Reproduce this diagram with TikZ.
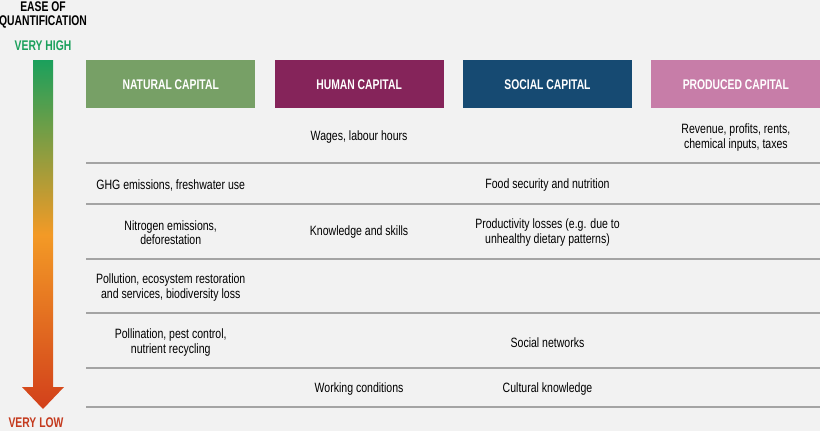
\documentclass[tikz,border=0pt]{standalone}
\usepackage{fontspec}
\setmainfont{Liberation Sans}[FakeStretch=0.78,BoldFeatures={FakeStretch=0.74}]
\usetikzlibrary{positioning}
\definecolor{pagegray}{HTML}{F2F2F2}
\definecolor{rulegray}{HTML}{A4A4A4}
\definecolor{natgreen}{HTML}{77A066}
\definecolor{humanplum}{HTML}{85245A}
\definecolor{socialblue}{HTML}{164A72}
\definecolor{prodpink}{HTML}{C77DA8}
\definecolor{highgreen}{HTML}{1BA05C}
\definecolor{midorange}{HTML}{F39A26}
\definecolor{lowred}{HTML}{D2401B}
\definecolor{lowtext}{HTML}{C43A1E}

\begin{document}
\begin{tikzpicture}[
x=1pt,y=-1pt,
header/.style={rectangle,minimum width=169pt,minimum height=48pt,inner sep=0pt,
text=white,font=\fontsize{14}{15}\selectfont\bfseries},
cell/.style={align=center,inner sep=0pt,font=\fontsize{13.5}{14.5}\selectfont},
axis label/.style={align=center,inner sep=0pt,font=\fontsize{14}{13.5}\selectfont\bfseries},
rule/.style={draw=rulegray,line width=1.3pt},
node distance=19pt
]

% page
\fill[pagegray] (0,0) rectangle (820,431);
\useasboundingbox (0,0) rectangle (820,431);

% scale on the left
\node[axis label] (ease) at (43,15) {EASE OF\\QUANTIFICATION};
\node[axis label,text=highgreen] (veryhigh) at (43,46) {VERY HIGH};
\node[axis label,text=lowtext] (verylow) at (36,422.5) {VERY LOW};
\shade[top color=highgreen,bottom color=lowred,middle color=midorange]
(33,60) -- (53,60) -- (53,387) -- (64,387) -- (43,409) -- (22,387) -- (33,387) -- cycle;

% column heads
\node[header,fill=natgreen,anchor=north west] (natural) at (86,60) {NATURAL CAPITAL};
\node[header,fill=humanplum,right=of natural] (human) {HUMAN CAPITAL};
\node[header,fill=socialblue,right=of human] (social) {SOCIAL CAPITAL};
\node[header,fill=prodpink,right=of social] (produced) {PRODUCED CAPITAL};

% rows
\foreach \y in {163,204,259,313,368,407}
\draw[rule] (86,\y) -- (820,\y);
\coordinate (row1) at (0,137.5);
\coordinate (row2) at (0,185.5);
\coordinate (row3) at (0,232.5);
\coordinate (row4) at (0,287.5);
\coordinate (row5) at (0,342.5);
\coordinate (row6) at (0,389.5);

\node[cell] (wages)     at (human |- row1)    {Wages, labour hours};
\node[cell] (revenue)   at (produced |- row1) {Revenue, profits, rents,\\chemical inputs, taxes};
\node[cell] (ghg)       at (natural |- row2)  {GHG emissions, freshwater use};
\node[cell] (food)      at (social |- row2)   {Food security and nutrition};
\node[cell] (nitrogen)  at (natural |- row3)  {Nitrogen emissions,\\deforestation};
\node[cell] (skills)    at (human |- row3)    {Knowledge and skills};
\node[cell] (losses)    at (social |- row3)   {Productivity losses (e.g. due to\\unhealthy dietary patterns)};
\node[cell] (pollution) at (natural |- row4)  {Pollution, ecosystem restoration\\and services, biodiversity loss};
\node[cell] (pollinate) at (natural |- row5)  {Pollination, pest control,\\nutrient recycling};
\node[cell] (networks)  at (social |- row5)   {Social networks};
\node[cell] (working)   at (human |- row6)    {Working conditions};
\node[cell] (cultural)  at (social |- row6)   {Cultural knowledge};
\end{tikzpicture}
\end{document}
